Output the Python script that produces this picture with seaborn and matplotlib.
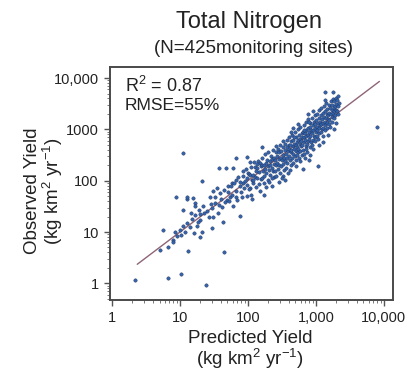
import matplotlib
matplotlib.use("Agg")
import matplotlib.pyplot as plt
import seaborn as sns
import pandas as pd
import numpy as np
from matplotlib.ticker import LogLocator, NullFormatter

# ---- data: log10 of yields ----
pred_log = [
    0.34, 0.83, 1.01, 1.38, 0.70, 0.83, 1.12, 1.65, 0.75, 0.89, 0.94, 1.11, 1.22, 1.04, 1.00, 1.05,
    1.11, 1.16, 1.22, 1.28, 1.34, 1.40, 1.47, 1.51, 1.29, 1.25, 1.20, 1.32, 1.44, 1.49, 1.54, 1.59,
    1.65, 1.71, 1.76, 1.83, 1.88, 1.93, 1.98, 2.00, 1.57, 1.68, 1.78, 1.83, 1.64, 1.88, 1.49, 1.56,
    1.69, 1.74, 1.78, 1.83, 1.91, 2.03, 1.93, 3.03, 2.81, 2.51, 3.90, 3.13, 3.25, 1.98, 2.20,
    1.70, 1.72, 1.75, 1.77, 1.80, 1.82, 1.84, 1.86, 1.88, 1.90, 1.92, 1.94, 1.95, 1.97, 1.98, 1.99,
    1.60, 1.62, 1.66, 1.58, 1.52, 1.45, 1.42, 1.36, 1.30, 1.26, 1.18, 1.15, 1.08, 1.02, 0.95, 0.92,
    1.05, 1.10, 1.19, 1.22, 1.29, 1.32, 1.47, 0.90,
    2.01, 2.02, 2.03, 2.04, 2.05, 2.06, 2.07, 2.08, 2.09, 2.10, 2.11, 2.12, 2.13, 2.14, 2.15, 2.16,
    2.17, 2.18, 2.19, 2.03, 2.08, 2.12, 2.16, 2.19, 2.06, 2.14,
    2.20, 2.21, 2.21, 2.22, 2.23, 2.23, 2.24, 2.25, 2.25, 2.26, 2.27, 2.27, 2.28, 2.29, 2.29, 2.30,
    2.31, 2.31, 2.32, 2.33, 2.33, 2.34, 2.35, 2.35, 2.36, 2.37, 2.37, 2.38, 2.39, 2.39, 2.24, 2.36,
    2.40, 2.40, 2.41, 2.41, 2.42, 2.43, 2.43, 2.44, 2.44, 2.45, 2.45, 2.46, 2.46, 2.47, 2.47, 2.48,
    2.49, 2.49, 2.50, 2.50, 2.51, 2.51, 2.52, 2.52, 2.53, 2.53, 2.54, 2.55, 2.55, 2.56, 2.56, 2.57,
    2.57, 2.58, 2.58, 2.59, 2.59, 2.60, 2.42, 2.54,
    2.60, 2.61, 2.61, 2.62, 2.62, 2.63, 2.63, 2.64, 2.64, 2.65, 2.65, 2.66, 2.66, 2.67, 2.67, 2.68,
    2.68, 2.69, 2.69, 2.70, 2.70, 2.71, 2.71, 2.72, 2.72, 2.73, 2.73, 2.74, 2.74, 2.75, 2.75, 2.76,
    2.76, 2.77, 2.77, 2.78, 2.78, 2.79, 2.79, 2.80, 2.62, 2.66, 2.70, 2.74, 2.77, 2.64, 2.72, 2.68,
    2.80, 2.81, 2.81, 2.82, 2.82, 2.83, 2.83, 2.84, 2.84, 2.85, 2.85, 2.86, 2.86, 2.87, 2.87, 2.88,
    2.88, 2.89, 2.89, 2.90, 2.90, 2.91, 2.91, 2.92, 2.92, 2.93, 2.93, 2.94, 2.94, 2.95, 2.95, 2.96,
    2.96, 2.97, 2.97, 2.98, 2.98, 2.99, 2.99, 3.00, 2.84, 2.88, 2.92, 2.96, 2.86, 2.90, 2.94, 2.98,
    2.82, 2.90,
    3.00, 3.01, 3.01, 3.02, 3.02, 3.03, 3.03, 3.04, 3.04, 3.05, 3.05, 3.06, 3.06, 3.07, 3.07, 3.08,
    3.08, 3.09, 3.09, 3.10, 3.10, 3.11, 3.11, 3.12, 3.12, 3.13, 3.13, 3.14, 3.14, 3.15, 3.15, 3.16,
    3.16, 3.17, 3.17, 3.18, 3.18, 3.19, 3.19, 3.20, 3.04, 3.10, 3.14, 3.18,
    3.20, 3.21, 3.21, 3.22, 3.22, 3.23, 3.23, 3.24, 3.24, 3.25, 3.25, 3.26, 3.26, 3.27, 3.27, 3.28,
    3.28, 3.29, 3.29, 3.30, 3.31, 3.31, 3.32, 3.33, 3.33, 3.34, 3.26, 3.30,
]
obs_log = [
    0.07, 0.10, 0.18, -0.03, 0.64, 0.70, 0.63, 0.61, 1.04, 0.85, 1.69, 1.64, 1.56, 2.54, 1.04, 1.11,
    1.18, 1.37, 1.33, 1.42, 1.50, 1.40, 1.46, 1.56, 1.24, 1.11, 0.98, 2.00, 1.69, 1.79, 1.85, 1.76,
    1.82, 1.89, 1.95, 2.02, 1.89, 1.95, 2.05, 2.15, 2.24, 2.24, 2.24, 2.44, 1.20, 1.31, 1.30, 1.37,
    1.63, 1.69, 1.50, 1.69, 1.69, 1.85, 2.18, 2.29, 2.22, 2.09, 3.04, 3.73, 3.73, 2.47, 2.65,
    1.78, 1.60, 1.90, 1.72, 1.95, 1.80, 1.62, 2.08, 1.98, 1.78, 2.10, 1.85, 2.00, 2.22, 1.92, 1.70,
    1.65, 1.48, 1.58, 1.52, 1.68, 1.55, 1.30, 1.38, 1.35, 1.20, 1.25, 1.10, 1.00, 0.95, 0.92, 1.00,
    1.43, 1.68, 1.66, 1.51, 0.90, 1.00, 1.08, 0.80,
    2.14, 1.83, 2.11, 1.72, 2.26, 2.01, 2.12, 1.96, 2.37, 2.08, 2.26, 1.87, 2.24, 2.05, 2.38, 2.17,
    1.80, 2.35, 2.04, 2.36, 2.01, 2.18, 1.94, 2.29, 1.64, 2.33,
    2.31, 2.05, 2.45, 2.18, 1.95, 2.30, 2.10, 2.52, 2.22, 1.88, 2.35, 2.15, 2.40, 2.02, 2.28, 2.55,
    2.20, 1.98, 2.38, 2.12, 2.30, 2.48, 2.25, 1.90, 2.42, 2.18, 2.60, 2.32, 2.08, 2.45, 1.72, 2.05,
    2.40, 2.18, 2.55, 2.30, 2.10, 2.48, 2.35, 2.62, 2.22, 2.42, 1.98, 2.55, 2.30, 2.70, 2.15, 2.45,
    2.58, 2.28, 2.40, 2.05, 2.65, 2.50, 2.32, 2.78, 2.45, 2.20, 2.60, 2.38, 2.72, 2.52, 2.25, 2.65,
    2.45, 2.80, 2.35, 2.58, 2.15, 2.70, 2.68, 2.02,
    2.48, 2.62, 2.85, 2.40, 2.70, 2.55, 2.30, 2.78, 2.60, 2.45, 2.90, 2.68, 2.52, 2.35, 2.80, 2.62,
    2.72, 2.48, 2.95, 2.70, 2.58, 2.40, 2.85, 2.65, 2.75, 2.55, 3.00, 2.80, 2.62, 2.45, 2.90, 2.72,
    2.82, 2.58, 3.05, 2.78, 2.68, 2.50, 2.92, 2.85, 2.20, 3.02, 2.28, 3.10, 2.38, 2.95, 2.50, 2.85,
    2.70, 2.95, 2.60, 2.85, 3.08, 2.75, 2.52, 2.92, 2.80, 3.15, 2.68, 2.88, 2.98, 2.72, 2.55, 3.02,
    2.90, 2.78, 3.20, 2.95, 2.82, 2.65, 3.05, 2.88, 3.12, 2.98, 2.75, 3.22, 2.92, 2.80, 3.08, 2.98,
    2.62, 3.15, 2.88, 3.02, 3.28, 2.85, 3.10, 2.95, 2.45, 3.30, 2.50, 3.35, 2.62, 3.15, 2.70, 2.78,
    2.98, 2.40,
    3.18, 2.88, 3.05, 3.30, 2.98, 3.12, 2.82, 3.22, 3.02, 3.38, 2.92, 3.15, 3.08, 2.95, 3.28, 3.10,
    3.42, 3.00, 3.20, 2.88, 3.32, 3.12, 3.02, 3.25, 3.45, 3.15, 2.98, 3.35, 3.08, 3.22, 3.52, 3.12,
    3.30, 3.02, 3.40, 3.20, 3.28, 3.10, 3.48, 3.32, 2.70, 2.75, 3.58, 2.90,
    3.18, 3.42, 3.05, 3.30, 3.55, 3.25, 3.38, 3.15, 3.48, 3.32, 3.60, 3.22, 3.42, 3.35, 3.55, 3.28,
    3.45, 3.62, 3.38, 3.50, 3.35, 3.58, 3.45, 3.65, 3.30, 3.52, 3.00, 3.12,
]
line_x = [2.35, 8600]
line_y = [2.35, 8600]
xtick_vals = [1, 10, 100, 1000, 10000]
xtick_labels = ["1", "10", "100", "1,000", "10,000"]
ytick_vals = [1, 10, 100, 1000, 10000]
ytick_labels = ["1", "10", "100", "1000", "10,000"]

df = pd.DataFrame({"Predicted": np.power(10.0, pred_log),
                   "Observed": np.power(10.0, obs_log)})

sns.set_style("ticks")
plt.rcParams["font.family"] = ["Liberation Sans", "DejaVu Sans"]
plt.rcParams["mathtext.fontset"] = "custom"
plt.rcParams["mathtext.rm"] = "Liberation Sans"
plt.rcParams["mathtext.it"] = "Liberation Sans:italic"
plt.rcParams["mathtext.bf"] = "Liberation Sans:bold"

fig = plt.figure(figsize=(4.08, 3.71), dpi=100)
ax = fig.add_axes([0.2696, 0.1914, 0.6929, 0.6272])

ax.plot(line_x, line_y, color="#8e6476", lw=1.0, zorder=2)
sns.scatterplot(data=df, x="Predicted", y="Observed", ax=ax, s=6,
                color="#3363ad", edgecolor="#1e3056", linewidth=0.3, zorder=3)

ax.set_xscale("log")
ax.set_yscale("log")
ax.set_xlim(10 ** -0.03, 10 ** 4.13)
ax.set_ylim(10 ** -0.325, 10 ** 4.21)
ax.set_xticks(xtick_vals, xtick_labels)
ax.set_yticks(ytick_vals, ytick_labels)
ax.xaxis.set_minor_locator(LogLocator(base=10, subs=np.arange(2, 10)))
ax.yaxis.set_minor_locator(LogLocator(base=10, subs=np.arange(2, 10)))
ax.xaxis.set_minor_formatter(NullFormatter())
ax.yaxis.set_minor_formatter(NullFormatter())

for sp in ax.spines.values():
    sp.set_visible(True)
    sp.set_color("#4a4a4a")
    sp.set_linewidth(1.4)
ax.tick_params(axis="both", which="major", direction="out", length=4, width=1,
               color="#555555", labelsize=10.5, labelcolor="#222222", pad=4)
ax.tick_params(axis="both", which="minor", direction="out", length=2, width=0.7,
               color="#777777")

ax.set_xlabel("Predicted Yield\n(kg km$^{2}$ yr$^{-1}$)", fontsize=13.5,
              color="#222222", linespacing=1.0)
ax.set_ylabel("Observed Yield\n(kg km$^{2}$ yr$^{-1}$)", fontsize=13.5,
              color="#222222", linespacing=1.0)
ax.xaxis.set_label_coords(0.495, -0.13)
ax.xaxis.label.set_va("top")
ax.yaxis.set_label_coords(-0.16, 0.47)

ax.text(0.053, 0.92, "R$^{2}$ = 0.87", transform=ax.transAxes, fontsize=13,
        va="center", ha="left", color="#222222")
ax.text(0.053, 0.834, "RMSE=55%", transform=ax.transAxes, fontsize=12.5,
        va="center", ha="left", color="#222222")

fig.text(0.610, 0.941, "Total Nitrogen", fontsize=17, ha="center", va="center",
         color="#222222")
fig.text(0.621, 0.869, "(N=425monitoring sites)", fontsize=13.5, ha="center",
         va="center", color="#222222")

fig.savefig("out.png", dpi=100)
